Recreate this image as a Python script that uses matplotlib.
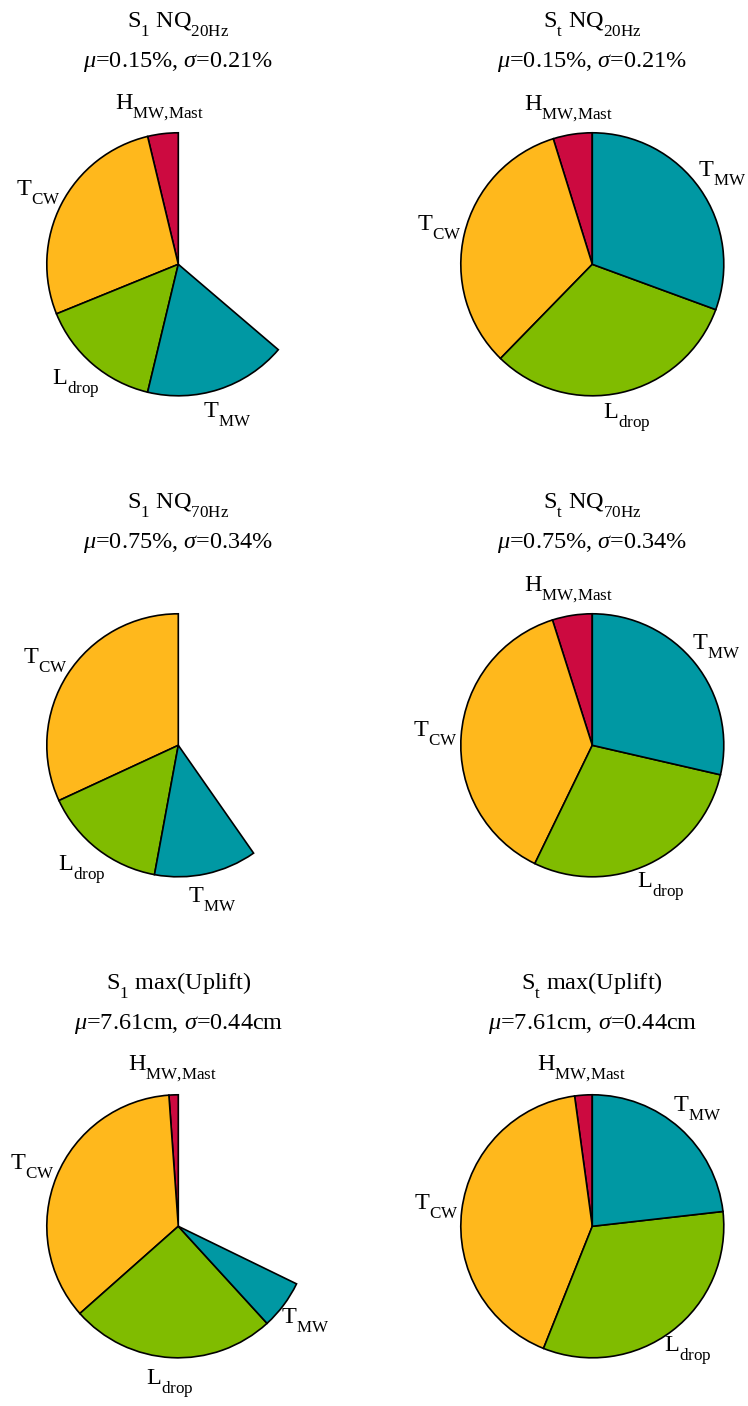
import matplotlib
matplotlib.use("Agg")
import matplotlib.pyplot as plt

plt.rcParams["font.family"] = ["Liberation Serif", "DejaVu Serif"]
plt.rcParams["mathtext.fontset"] = "custom"
plt.rcParams["mathtext.rm"] = "Liberation Serif"
plt.rcParams["mathtext.it"] = "Liberation Serif:italic"
plt.rcParams["mathtext.bf"] = "Liberation Serif:bold"

# MATLAB's tex subscripts sit lower than mathtext's default
try:
    from matplotlib import _mathtext
    _mathtext.FontConstantsBase.sub1 = 0.9
except (ImportError, AttributeError):
    pass

# slice order as drawn (counter-clockwise from 12 o'clock)
labels = [r"H$_\mathrm{MW{,}Mast}$", r"T$_\mathrm{CW}$", r"L$_\mathrm{drop}$", r"T$_\mathrm{MW}$"]
colors = ["#CC0A40", "#FFB81C", "#80BC00", "#0098A3"]

# first order (S1) and total (St) indices
s1_nq20 = [0.0375, 0.274, 0.151, 0.175]
st_nq20 = [0.048, 0.329, 0.317, 0.306]
s1_nq70 = [0.0, 0.319, 0.152, 0.126]
st_nq70 = [0.049, 0.379, 0.286, 0.286]
s1_uplift = [0.0114, 0.354, 0.2525, 0.060]
st_uplift = [0.0215, 0.418, 0.3285, 0.232]

titles = [r"S$_1$ NQ$_\mathrm{20Hz}$", r"S$_\mathrm{t}$ NQ$_\mathrm{20Hz}$",
          r"S$_1$ NQ$_\mathrm{70Hz}$", r"S$_\mathrm{t}$ NQ$_\mathrm{70Hz}$",
          r"S$_1$ max(Uplift)", r"S$_\mathrm{t}$ max(Uplift)"]
stats = [r"$\mathit{\mu}$=0.15%, $\mathit{\sigma}$=0.21%"] * 2 + \
        [r"$\mathit{\mu}$=0.75%, $\mathit{\sigma}$=0.34%"] * 2 + \
        [r"$\mathit{\mu}$=7.61cm, $\mathit{\sigma}$=0.44cm"] * 2
data = [s1_nq20, st_nq20, s1_nq70, st_nq70, s1_uplift, st_uplift]

W, H = 748, 1406
fig = plt.figure(figsize=(W / 100, H / 100), dpi=100)

R = 131.5          # pie radius in pixels
box = 340          # axes size in pixels
cx = [178.3, 592.3]
cy = [264.3, 745.3, 1226.3]
lim = box / 2 / R
fs = 17.5

for i, vals in enumerate(data):
    row, col = divmod(i, 2)
    ax = fig.add_axes([(cx[col] - box / 2) / W, 1 - (cy[row] + box / 2) / H,
                       box / W, box / H])
    keep = [k for k, v in enumerate(vals) if v > 0]
    ax.pie([vals[k] for k in keep], labels=[labels[k] for k in keep],
           colors=[colors[k] for k in keep], startangle=90, counterclock=True,
           normalize=False, labeldistance=1.2, radius=1,
           wedgeprops=dict(edgecolor="black", linewidth=1.2),
           textprops=dict(ha="center", va="center", fontsize=fs))
    ax.set_xlim(-lim, lim)
    ax.set_ylim(-lim, lim)
    ax.set_aspect("equal")
    ax.axis("off")
    ax.text(0, 237.6 / R, titles[i], ha="center", va="baseline", fontsize=fs, clip_on=False)
    ax.text(0, 197.6 / R, stats[i], ha="center", va="baseline", fontsize=fs, clip_on=False)

fig.savefig("out.png", dpi=100)
